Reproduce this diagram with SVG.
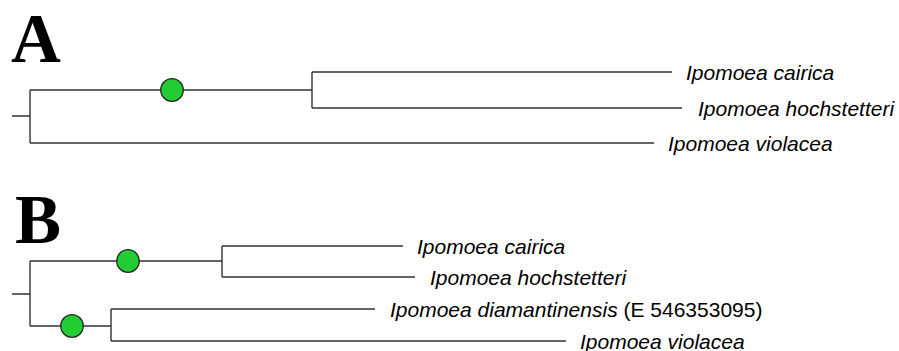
<svg xmlns="http://www.w3.org/2000/svg" width="899" height="351" viewBox="0 0 899 351">
  <style>
    .panel { font-family: "Liberation Serif", "Times New Roman", serif; font-weight: bold; font-size: 69px; fill: #000; }
    .taxon { font-family: "Liberation Sans", Arial, sans-serif; font-style: italic; font-size: 21px; fill: #000; }
    .plain { font-style: normal; }
    .branch { fill: none; stroke: #333; stroke-width: 1.4; }
    .node { fill: #22cc33; stroke: #222; stroke-width: 1.3; }
  </style>

  <!-- Panel A -->
  <text class="panel" x="11" y="62">A</text>
  <g id="connectors-a">
    <path class="branch" d="M12,116 H30 M30,90 V143 M30,90 H312 M312,72 V108 M312,72 H672 M312,108 H682 M30,143 H654"/>
  </g>
  <g id="a-node-1"><circle class="node" cx="172" cy="90" r="11.3"/></g>
  <g id="a-cairica"><text class="taxon" x="686" y="79.5">Ipomoea cairica</text></g>
  <g id="a-hochstetteri"><text class="taxon" x="698" y="115.5">Ipomoea hochstetteri</text></g>
  <g id="a-violacea"><text class="taxon" x="668" y="150.5">Ipomoea violacea</text></g>

  <!-- Panel B -->
  <text class="panel" x="15" y="243">B</text>
  <g id="connectors-b">
    <path class="branch" d="M12,294 H30 M30,261 V326 M30,261 H222 M222,246 V277 M222,246 H403 M222,277 H415 M30,326 H111 M111,309 V341 M111,309 H375 M111,341 H566"/>
  </g>
  <g id="b-node-1"><circle class="node" cx="128" cy="261" r="11.3"/></g>
  <g id="b-node-2"><circle class="node" cx="72" cy="326" r="11.3"/></g>
  <g id="b-cairica"><text class="taxon" x="417" y="253.5">Ipomoea cairica</text></g>
  <g id="b-hochstetteri"><text class="taxon" x="430" y="284.5">Ipomoea hochstetteri</text></g>
  <g id="b-diamantinensis"><text class="taxon" x="390" y="316.5">Ipomoea diamantinensis <tspan class="plain">(E 546353095)</tspan></text></g>
  <g id="b-violacea"><text class="taxon" x="580" y="348.5">Ipomoea violacea</text></g>
</svg>
